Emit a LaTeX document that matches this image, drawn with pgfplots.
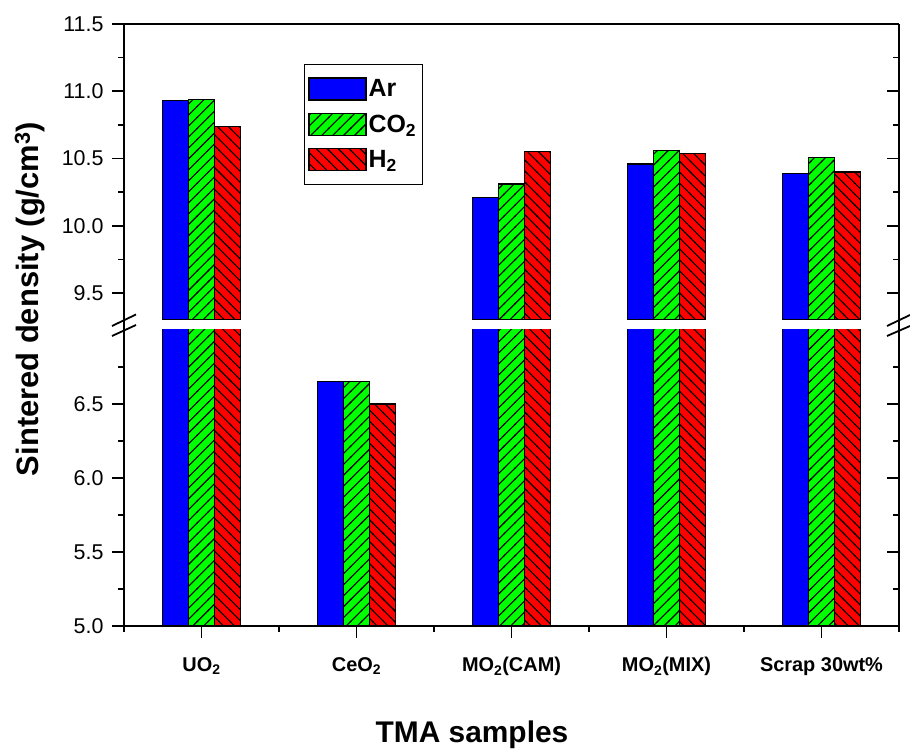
\documentclass[border=0pt]{standalone}
\usepackage{pgfplots}
\pgfplotsset{compat=1.18}
\usepackage{pgfplotstable}
\usetikzlibrary{patterns.meta}
\usepackage{fontspec}
\setmainfont{Liberation Sans}
\definecolor{cAr}{RGB}{0,0,255}
\definecolor{cCO}{RGB}{0,255,0}
\definecolor{cH}{RGB}{255,0,0}
\pgfdeclarepatternformonly{hne}{\pgfqpoint{-1pt}{-1pt}}{\pgfqpoint{12pt}{12pt}}{\pgfqpoint{11pt}{11pt}}%
{\pgfsetlinewidth{1.1pt}\pgfpathmoveto{\pgfqpoint{-1pt}{-1pt}}\pgfpathlineto{\pgfqpoint{12pt}{12pt}}\pgfusepath{stroke}}
\pgfdeclarepatternformonly{hnw}{\pgfqpoint{-1pt}{-1pt}}{\pgfqpoint{12pt}{12pt}}{\pgfqpoint{11pt}{11pt}}%
{\pgfsetlinewidth{1.1pt}\pgfpathmoveto{\pgfqpoint{-1pt}{12pt}}\pgfpathlineto{\pgfqpoint{12pt}{-1pt}}\pgfusepath{stroke}}
\pgfplotstableread{
x y
1 10.93
2 6.65
3 10.21
4 10.46
5 10.39
}\tAr
\pgfplotstableread{
x y
1 10.94
2 6.65
3 10.31
4 10.56
5 10.51
}\tCO
\pgfplotstableread{
x y
1 10.74
2 6.50
3 10.55
4 10.54
5 10.40
}\tH
\pgfplotsset{
  brkbase/.style={
    scale only axis, width=775bp, height=296bp,
    anchor=south west,
    xmin=0.5, xmax=5.5,
    axis line style={line width=1.8bp, black},
    every tick/.style={line width=1.6bp, black},
    major tick length=12bp, minor tick length=6bp,
    /pgf/number format/assume math mode=true,
    yticklabel style={font=\fontsize{21.5}{24}\selectfont, xshift=-5bp,
      /pgf/number format/fixed, /pgf/number format/fixed zerofill,
      /pgf/number format/precision=1},
  },
  brkmain/.style={
    brkbase,
    ybar, bar width=26bp,
    tick align=outside,
    axis y line*=left,
  },
  brkright/.style={
    brkbase,
    tick align=inside,
    axis x line=none,
    axis y line*=right,
    yticklabels={},
  },
  sAr/.style={fill=cAr, draw=black, line width=1.3bp, bar shift=-26bp},
  sCO/.style={fill=cCO, draw=black, line width=1.3bp, bar shift=0bp,
    postaction={pattern=hne, pattern color=black}},
  sH/.style={fill=cH, draw=black, line width=1.3bp, bar shift=26bp,
    postaction={pattern=hnw, pattern color=black}},
}
\begin{document}
\begin{tikzpicture}
\useasboundingbox (0bp,0bp) rectangle (910bp,753bp);
% lower part
\begin{axis}[brkmain, at={(124bp,127bp)},
  ymin=5, ymax=7,
  ytick={5,5.5,6,6.5}, minor ytick={5.25,5.75,6.25,6.75},
  axis x line*=bottom,
  xtick={1,2,3,4,5}, minor xtick={0.5,1.5,2.5,3.5,4.5,5.5},
  xticklabels={UO\textsubscript{2},CeO\textsubscript{2},MO\textsubscript{2}(CAM),MO\textsubscript{2}(MIX),Scrap 30wt\%},
  xticklabel style={font=\bfseries\fontsize{20}{24}\selectfont, yshift=-16bp},
]
\addplot[sAr] table[x=x,y=y] {\tAr};
\addplot[sCO] table[x=x,y=y] {\tCO};
\addplot[sH] table[x=x,y=y] {\tH};
\end{axis}
\begin{axis}[brkright, at={(124bp,127bp)},
  ymin=5, ymax=7,
  ytick={5,5.5,6,6.5}, minor ytick={5.25,5.75,6.25,6.75},
]
\end{axis}
% upper part
\begin{axis}[brkmain, at={(124bp,433bp)},
  ymin=9.3, ymax=11.5,
  restrict y to domain=9:12,
  ytick={9.5,10,10.5,11,11.5}, minor ytick={9.75,10.25,10.75,11.25},
  axis x line*=top, xtick=\empty,
  legend style={at={(axis description cs:0.232,0.865)}, anchor=north west,
    draw=black, line width=1bp, fill=white,
    font=\bfseries\fontsize{25}{28}\selectfont,
    inner xsep=4bp, inner ysep=13bp, row sep=12bp,
    legend cell align=left},
  legend image code/.code={\draw[#1] (0bp,-11bp) rectangle (57bp,11bp);},
]
\addplot[sAr] table[x=x,y=y] {\tAr};
\addlegendentry{Ar}
\addplot[sCO] table[x=x,y=y] {\tCO};
\addlegendentry{CO\textsubscript{2}}
\addplot[sH] table[x=x,y=y] {\tH};
\addlegendentry{H\textsubscript{2}}
\end{axis}
\begin{axis}[brkright, at={(124bp,433bp)},
  ymin=9.3, ymax=11.5,
  ytick={9.5,10,10.5,11,11.5}, minor ytick={9.75,10.25,10.75,11.25},
]
\end{axis}
% axis lines across the gap and break marks
\draw[line width=1.8bp] (124bp,422bp) -- (124bp,434bp);
\draw[line width=1.8bp] (899bp,422bp) -- (899bp,434bp);
\draw[line width=1.8bp] (112bp,427bp) -- (136bp,438.5bp);
\draw[line width=1.8bp] (112bp,417bp) -- (136bp,428bp);
\draw[line width=1.8bp] (887bp,427bp) -- (910bp,438bp);
\draw[line width=1.8bp] (887bp,417bp) -- (910bp,427bp);
% labels
\node[rotate=90, font=\bfseries\fontsize{31}{35}\selectfont] at (30bp,454bp) {Sintered density (g/cm\textsuperscript{3})};
\node[font=\bfseries\fontsize{30}{34}\selectfont] at (472bp,18bp) {TMA samples};
\end{tikzpicture}
\end{document}
